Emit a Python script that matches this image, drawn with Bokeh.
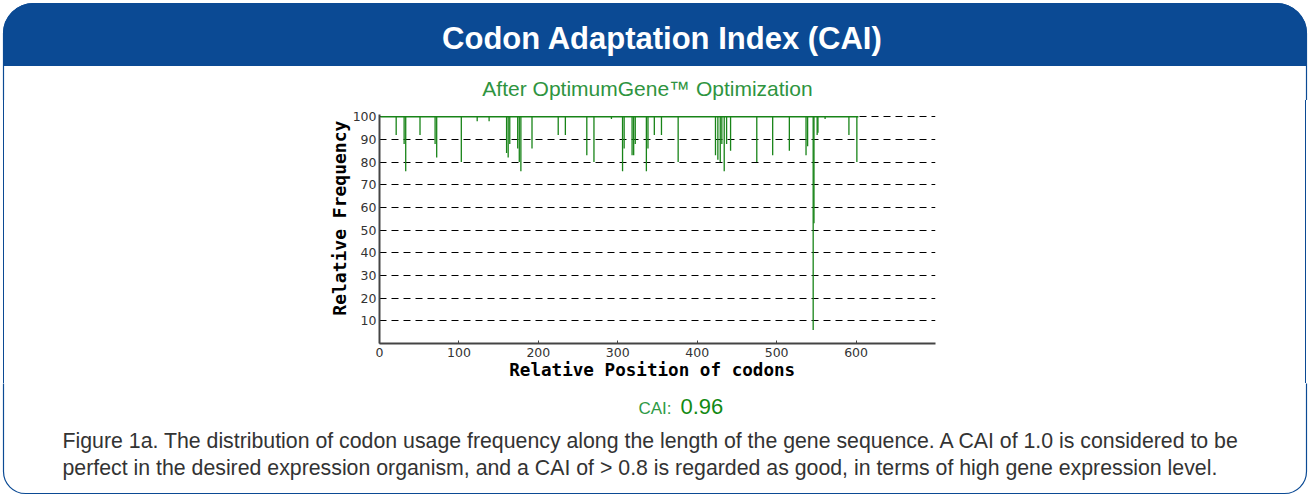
from bokeh.plotting import figure
from bokeh.layouts import column, row
from bokeh.models import Range1d, FixedTicker, Div
from bokeh.core.properties import value
from bokeh.embed import file_html
from bokeh.resources import INLINE

# ---------------- data ----------------
codon_pos = [21, 31, 33, 51, 70, 72, 103, 123, 138, 160, 162, 164, 174, 176, 178,
             192, 225, 234, 261, 270, 292, 306, 308, 318, 320, 322, 336, 338, 346,
             355, 376, 423, 426, 429, 431, 434, 437, 442, 475, 495, 516, 537, 539,
             546, 547, 551, 552, 561, 591, 601]
rel_freq = [92, 88, 76, 92, 88, 82, 80, 98, 98, 84, 82, 88, 86, 80, 76,
            86, 92, 92, 83, 80, 99, 76, 86, 83, 83, 88, 76, 86, 92,
            92, 80, 83, 81, 80, 88, 76, 88, 85, 80, 83, 85, 83, 87,
            6, 53, 92, 93, 99, 92, 80]
seq_start, seq_end = 1, 603
baseline = [100, 100]
x_ticks = [0, 100, 200, 300, 400, 500, 600]
y_ticks = [10, 20, 30, 40, 50, 60, 70, 80, 90, 100]

title_text = "Codon Adaptation Index (CAI)"
subtitle_text = "After OptimumGene\u2122 Optimization"
x_label = "Relative Position of codons"
y_label = "Relative Frequency"
cai_label = "CAI:"
cai_value = "0.96"
caption = [
    "Figure 1a. The distribution of codon usage frequency along the length of the gene sequence.  A CAI of 1.0 is considered to be",
    "perfect in the desired expression organism, and a CAI of > 0.8 is regarded as good, in terms of high gene expression level.",
]

# ---------------- layout constants (page px) ----------------
W, H = 1309, 496
TOP_H = 100
MID_H = 283
BOT_H = H - TOP_H - MID_H
LEFT_W = 300
CHART_W = 660
RIGHT_W = W - LEFT_W - CHART_W
FL, FR, FT, FB = 379, 935, 114, 343     # chart frame on the page
BX0, BX1, BY0, BY1 = 3, 1306, 3, 493    # outer rounded box
BLUE = "#0b4a94"
GREEN = "#188418"
FONT = value("Liberation Sans")
NBSP = "\u00a0"


def deco(width, height):
    f = figure(width=width, height=height, x_range=Range1d(0, width), y_range=Range1d(height, 0),
               output_backend="svg", toolbar_location=None,
               x_axis_location=None, y_axis_location=None, min_border=0)
    f.outline_line_color = None
    f.background_fill_color = "white"
    f.border_fill_color = "white"
    f.grid.visible = False
    return f


# ---- top strip ----
top = deco(W, TOP_H)
top.quad(left=[BX0], right=[BX1], top=[BY0], bottom=[65], fill_color=BLUE, line_color=BLUE,
         border_radius=(30, 30, 0, 0))
top.quad(left=[BX0], right=[BX1], top=[BY0], bottom=[TOP_H + 300], fill_color=None,
         line_color=BLUE, line_width=1.2, border_radius=(30, 30, 0, 0))
top.text(x=[662], y=[38], text=[title_text], text_align="center", text_baseline="middle",
         text_font=FONT, text_font_style="bold", text_font_size="31px", text_color="white")
top.text(x=[647], y=[88], text=[subtitle_text], text_align="center", text_baseline="middle",
         text_font=FONT, text_font_size="21px", text_color="#2e9440")

# ---- middle row: side borders as plain HTML, chart in the middle ----
left = Div(width=LEFT_W, height=MID_H, margin=0,
           text=f'<div style="margin-left:{BX0}px;width:1px;height:{MID_H}px;background:{BLUE}"></div>')
right = Div(width=RIGHT_W, height=MID_H, margin=0,
            text=f'<div style="margin-left:{BX1 - LEFT_W - CHART_W - 1}px;width:1px;height:{MID_H}px;background:{BLUE}"></div>')

p = figure(width=CHART_W, height=MID_H, x_range=Range1d(0, 700), y_range=Range1d(0, 101),
           output_backend="svg", toolbar_location=None,
           min_border_left=FL - LEFT_W, min_border_right=LEFT_W + CHART_W - FR,
           min_border_top=FT - TOP_H, min_border_bottom=TOP_H + MID_H - FB)
p.outline_line_color = None
p.background_fill_color = "white"
p.border_fill_color = "white"

p.xgrid.visible = False
p.ygrid.grid_line_color = "black"
p.ygrid.grid_line_dash = "7 5"
p.ygrid.grid_line_width = 1

p.xaxis.ticker = FixedTicker(ticks=x_ticks)
p.yaxis.ticker = FixedTicker(ticks=y_ticks)
for ax in (p.xaxis[0], p.yaxis[0]):
    ax.axis_line_color = "#444444"
    ax.axis_line_width = 2
    ax.minor_tick_line_color = None
    ax.major_tick_line_color = "#444444"
    ax.major_label_text_font = "DejaVu Sans"
    ax.major_label_text_font_size = "12.5px"
    ax.major_label_text_color = "#333333"
    ax.axis_label_text_font = "DejaVu Sans Mono"
    ax.axis_label_text_font_style = "bold"
    ax.axis_label_text_color = "black"
p.xaxis.axis_label_text_font_size = "17.6px"
p.yaxis.axis_label_text_font_size = "18px"
p.xaxis.major_tick_in = 3
p.xaxis.major_tick_out = 0
p.yaxis.major_tick_in = 0
p.yaxis.major_tick_out = 0
p.xaxis.major_label_standoff = 4
p.yaxis.major_label_standoff = 3
# non-breaking padding nudges the centred labels to where the original sits
p.xaxis.axis_label = x_label + NBSP
p.yaxis.axis_label = NBSP * 2 + y_label
p.xaxis.axis_label_standoff = 0
p.yaxis.axis_label_standoff = 0

p.line([seq_start, seq_end], baseline, line_color=GREEN, line_width=1.6)
p.segment(x0=codon_pos, y0=[100] * len(codon_pos), x1=codon_pos, y1=rel_freq,
          line_color=GREEN, line_width=1.3)

# ---- bottom strip ----
Y0 = TOP_H + MID_H
bot = deco(W, BOT_H)
bot.quad(left=[BX0], right=[BX1], top=[-300], bottom=[BY1 - Y0], fill_color=None,
         line_color=BLUE, line_width=1.2, border_radius=(0, 0, 22, 22))
bot.text(x=[638], y=[408 - Y0], text=[cai_label], text_align="left", text_baseline="middle",
         text_font=FONT, text_font_size="17px", text_color="#2e9a46")
bot.text(x=[680], y=[406 - Y0], text=[cai_value], text_align="left", text_baseline="middle",
         text_font=FONT, text_font_size="22px", text_color="#138a13")
bot.text(x=[62, 62], y=[440 - Y0, 467 - Y0], text=caption, text_align="left", text_baseline="middle",
         text_font=FONT, text_font_size="21.3px", text_color="#333333")

layout = column(top, row(left, p, right, spacing=0), bot, spacing=0)
open("out.html", "w").write(file_html(layout, INLINE))
